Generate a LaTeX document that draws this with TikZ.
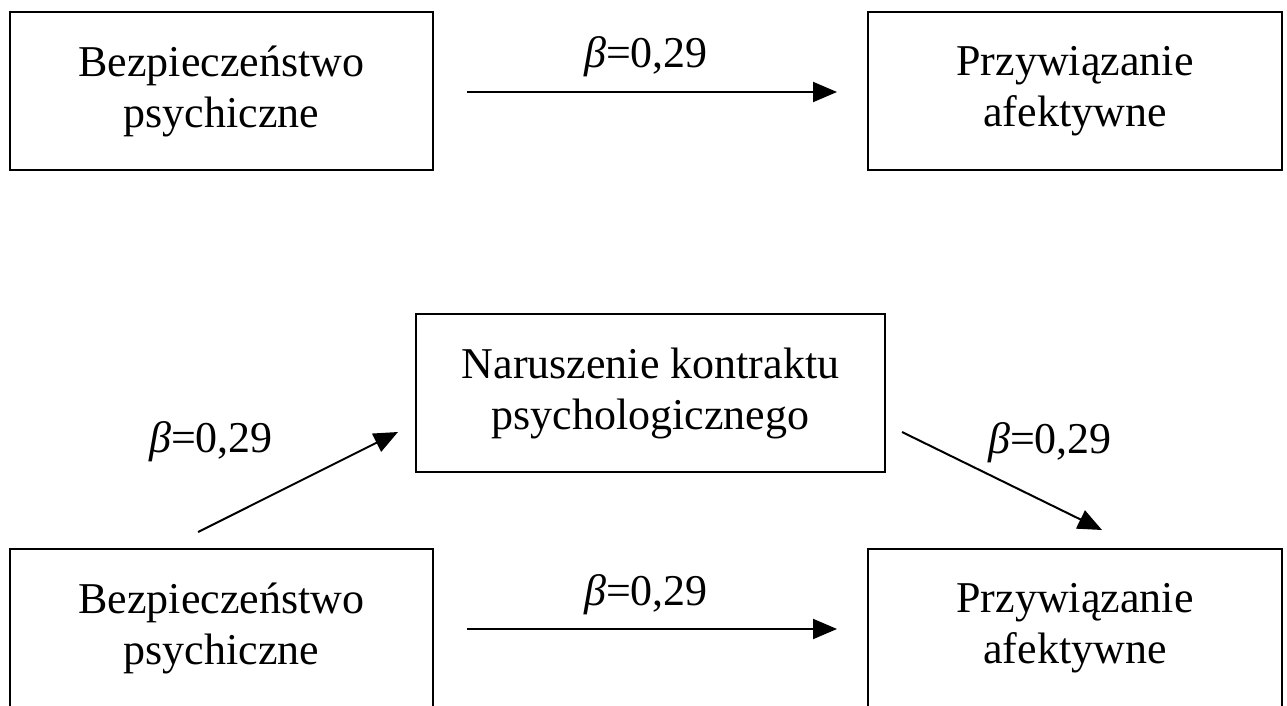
\documentclass[tikz,border=0pt]{standalone}
\usepackage{fontspec}
\setmainfont{Liberation Serif}
\usetikzlibrary{arrows.meta,positioning}
\newcommand{\bcoef}{{\itshape β}=0,29}

\begin{document}
\begin{tikzpicture}[x=1pt,y=-1pt,font=\fontsize{44}{51}\selectfont,
      node distance=379pt and 435pt,
      box/.style={draw,line width=2pt,minimum height=158pt,inner sep=0pt,outer sep=0pt,align=center},
      coef/.style={anchor=base,inner sep=0pt},
      arr/.style={-{Triangle[length=24pt,width=20pt]},line width=2pt}]
    \useasboundingbox (0,0) rectangle (1287,706);
    % top model
    \node[box,minimum width=423pt] (bez) at (221.5,91) {Bezpieczeństwo\\ psychiczne};
    \node[box,minimum width=414pt,right=of bez] (prz) {Przywiązanie\\ afektywne};
    % mediation model
    \node[box,minimum width=423pt,below=of bez] (bez2) {Bezpieczeństwo\\ psychiczne};
    \node[box,minimum width=414pt,right=of bez2] (prz2) {Przywiązanie\\ afektywne};
    \node[box,minimum width=469pt] (nar) at (650.5,393) {Naruszenie kontraktu\\ psychologicznego};
    \foreach \a/\b in {bez/prz,bez2/prz2}
      \draw[arr,shorten <=34pt,shorten >=31pt] ([yshift=-1pt]\a.east) -- ([yshift=-1pt]\b.west)
        node[coef,midway,xshift=-4.5pt,yshift=24pt] {\bcoef};
    \draw[arr] ([xshift=-23.5pt,yshift=17pt]bez2.north) -- ([xshift=-18pt,yshift=40pt]nar.south west);
    \draw[arr] ([xshift=17pt,yshift=40pt]nar.south east) -- ([xshift=27pt,yshift=19pt]prz2.north);
    \node[coef] (c1) at (211,452) {\bcoef};
    \node[coef] (c2) at (1050,453) {\bcoef};
  \end{tikzpicture}
\end{document}
